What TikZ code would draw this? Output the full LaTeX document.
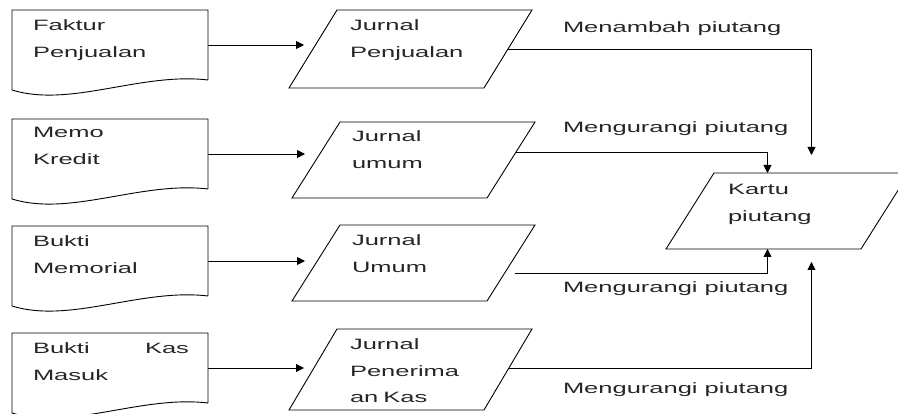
\documentclass[tikz,border=0pt]{standalone}
\usepackage{fontspec}
\setmainfont{Liberation Sans}[FakeStretch=1.7]
\usetikzlibrary{arrows.meta}
\tikzset{
  line/.style={draw=black, line width=0.9pt},
  arr/.style={line, -{Triangle[length=8pt,width=8pt]}},
  docbox/.style={inner sep=0pt, outer sep=0pt, minimum width=196pt, minimum height=70pt},
  txt/.style={anchor=base west, inner sep=0pt, outer sep=0pt, align=left, text width=156pt,
    font=\fontsize{15pt}{26.5pt}\selectfont, text=black!85},
  lbl/.style={anchor=base west, inner sep=0pt, outer sep=0pt,
    font=\fontsize{15pt}{18pt}\selectfont, text=black!85},
  pbox/.style={inner sep=0pt, outer sep=0pt, minimum width=243pt}
}
\newcommand\mkdoc[2]{%
  \node[docbox] (#1) at (110,{#2+35}) {};
  \draw[line] (#1.south east) -- (#1.north east) -- (#1.north west)
    -- ([yshift=-10pt]#1.south west) .. controls +(58,18) and +(-67,-8) .. (#1.south east);
}
\newcommand\mkpara[4]{%
  \node[pbox, minimum height=#4pt] (#1) at (#2,#3) {};
  \draw[line] ([xshift=48pt]#1.north west) -- (#1.north east)
    -- ([xshift=-48pt]#1.south east) -- (#1.south west) -- cycle;
}
\begin{document}
\begin{tikzpicture}[x=1pt,y=-1pt]
\useasboundingbox (0,0) rectangle (898,414);
% documents
\mkdoc{d1}{10}
\mkdoc{d2}{119}
\mkdoc{d3}{226}
\mkdoc{d4}{333}
\node[txt] (td1) at (33,31) {Faktur\\Penjualan};
\node[txt] (td2) at (33,138) {Memo\\Kredit};
\node[txt] (td3) at (33,247) {Bukti\\Memorial};
\node[txt] (td4) at (33,354) {Bukti\hfill Kas\\Masuk};
% journals
\mkpara{p1}{410.5}{49}{78}
\mkpara{p2}{413.5}{160}{76}
\mkpara{p3}{413.5}{263}{76}
\mkpara{p4}{410.5}{369.5}{81}
\node[txt] (tp1) at (350,31) {Jurnal\\Penjualan};
\node[txt] (tp2) at (352,142) {Jurnal\\umum};
\node[txt] (tp3) at (352,246) {Jurnal\\Umum};
\node[txt] (tp4) at (350,350) {Jurnal\\Penerima\\an Kas};
% kartu piutang
\mkpara{k}{787.5}{211}{76}
\node[txt] (tk) at (728,195) {Kartu\\piutang};
% arrows doc -> journal
\draw[arr] (d1.east) -- ([xshift=15pt]d1.east -| p1.west);
\draw[arr] (d2.east) -- ([xshift=13pt]d2.east -| p2.west);
\draw[arr] (d3.east) -- ([xshift=13pt]d3.east -| p3.west);
\draw[arr] (d4.east) -- ([xshift=15pt]d4.east -| p4.west);
% journal -> kartu
\coordinate (e1) at ([xshift=24pt,yshift=18pt]k.north);
\coordinate (e2) at ([xshift=-20pt]k.north);
\coordinate (e3) at ([xshift=-20pt]k.south);
\coordinate (e4) at ([xshift=24pt,yshift=-13pt]k.south);
\draw[arr] ([xshift=-24pt]p1.east) -| (e1);
\draw[arr] ([xshift=-19pt,yshift=8pt]p2.east) -| (e2);
\draw[arr] ([xshift=-20pt,yshift=-10pt]p3.east) -| (e3);
\draw[arr] ([xshift=-23pt,yshift=1.5pt]p4.east) -| (e4);
% labels
\node[lbl] (l1) at (563,33) {Menambah piutang};
\node[lbl] (l2) at (563,133) {Mengurangi piutang};
\node[lbl] (l3) at (563,293) {Mengurangi piutang};
\node[lbl] (l4) at (563,393) {Mengurangi piutang};
\end{tikzpicture}
\end{document}
